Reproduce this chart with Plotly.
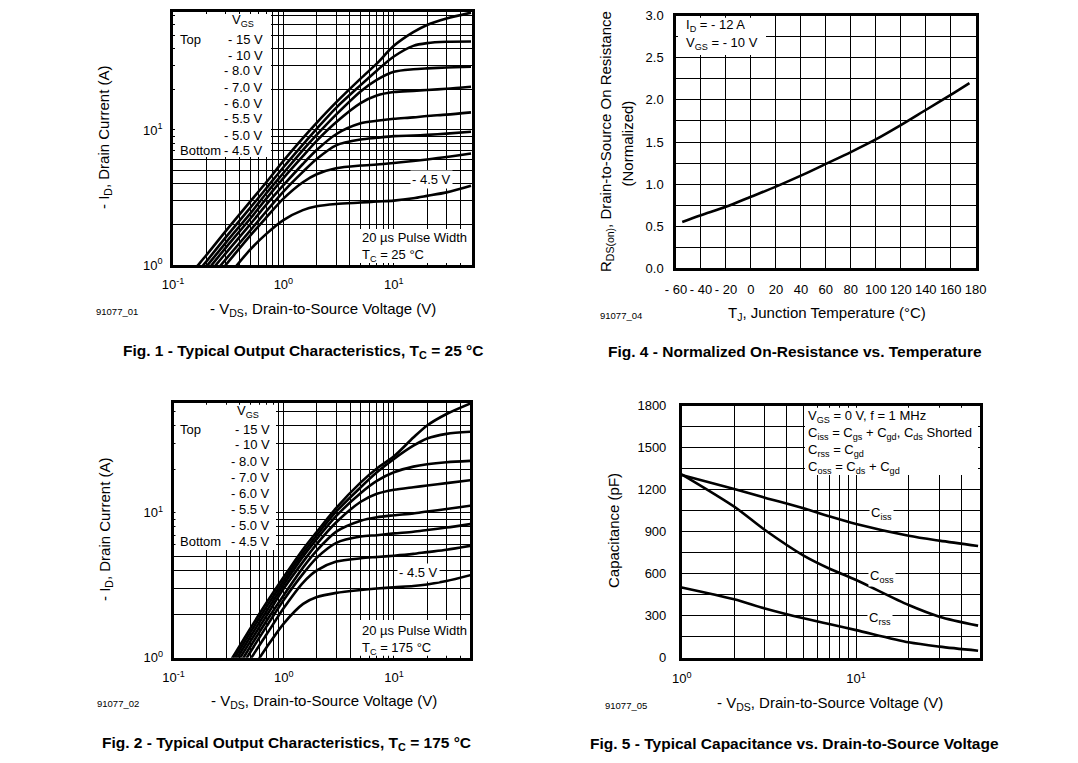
import plotly.graph_objects as go

# page body has an 8 px margin: the figure is drawn 8 px in from the window edge
OFF = 8
FW, FH = 1062, 747
FONT = "Liberation Sans, Arial, sans-serif"

# ---------------- data ----------------
vds_grid = [0.1, 0.15, 0.2, 0.3, 0.5, 0.7, 1, 1.5, 2, 3, 5, 7, 10, 15, 20, 30, 50]
vgs_labels = ["- 15 V", "- 10 V", "- 8.0 V", "- 7.0 V", "- 6.0 V", "- 5.5 V", "- 5.0 V", "- 4.5 V"]

# Fig. 1, TC = 25 C  (-ID in A for each VGS on vds_grid)
id25_15v = [0.59, 0.89, 1.18, 1.78, 2.95, 4.1, 5.9, 8.7, 11.3, 16, 24, 31, 42, 53, 60, 67, 74]
id25_10v = [0.53, 0.8, 1.06, 1.6, 2.65, 3.7, 5.3, 7.8, 10.2, 14.6, 21.5, 27.5, 35, 42, 44, 45, 45.2]
id25_8v = [0.49, 0.73, 0.97, 1.46, 2.4, 3.4, 4.8, 7.1, 9.2, 13, 19.3, 23.5, 27, 28.2, 28.6, 29, 29.4]
id25_7v = [0.45, 0.67, 0.89, 1.34, 2.2, 3.1, 4.4, 6.4, 8.3, 11.4, 15.8, 18, 19.1, 19.5, 19.8, 20.2, 20.9]
id25_6v = [0.41, 0.61, 0.82, 1.22, 2.0, 2.8, 3.9, 5.6, 7.1, 9.3, 11.2, 11.7, 12.1, 12.4, 12.7, 13.0, 13.5]
id25_55v = [0.37, 0.55, 0.74, 1.1, 1.8, 2.5, 3.5, 4.9, 6.1, 7.7, 8.5, 8.75, 9.0, 9.1, 9.2, 9.4, 9.7]
id25_5v = [0.34, 0.51, 0.68, 1.0, 1.65, 2.25, 3.1, 4.1, 4.7, 5.2, 5.45, 5.55, 5.7, 5.9, 6.05, 6.3, 6.7]
id25_45v = [0.26, 0.4, 0.53, 0.79, 1.3, 1.7, 2.15, 2.55, 2.72, 2.83, 2.9, 2.95, 3.0, 3.12, 3.25, 3.45, 3.87]

# Fig. 2, TC = 175 C
id175_15v = [0.24, 0.38, 0.53, 0.85, 1.6, 2.4, 3.6, 5.6, 7.4, 10.8, 16.2, 20.2, 24.5, 33, 40, 48, 57]
id175_10v = [0.22, 0.35, 0.49, 0.8, 1.5, 2.25, 3.4, 5.3, 7.0, 10.2, 15, 19, 23.5, 29, 32.5, 35, 36.2]
id175_8v = [0.21, 0.33, 0.46, 0.75, 1.4, 2.1, 3.2, 5.0, 6.6, 9.5, 13.7, 16.6, 19, 20.8, 21.6, 22.3, 22.8]
id175_7v = [0.2, 0.31, 0.43, 0.7, 1.3, 1.95, 3.0, 4.6, 6.1, 8.6, 11.9, 13.5, 14.4, 15.0, 15.4, 16.0, 16.8]
id175_6v = [0.18, 0.28, 0.4, 0.64, 1.2, 1.8, 2.7, 4.2, 5.5, 7.4, 8.8, 9.3, 9.6, 9.9, 10.2, 10.6, 11.2]
id175_55v = [0.16, 0.25, 0.36, 0.58, 1.1, 1.65, 2.5, 3.8, 4.9, 6.2, 6.85, 7.0, 7.2, 7.4, 7.6, 7.9, 8.36]
id175_5v = [0.14, 0.22, 0.32, 0.52, 0.98, 1.45, 2.2, 3.3, 4.0, 4.6, 4.85, 4.95, 5.05, 5.2, 5.35, 5.55, 5.92]
id175_45v = [0.12, 0.18, 0.26, 0.43, 0.8, 1.18, 1.72, 2.35, 2.62, 2.8, 2.93, 3.0, 3.06, 3.12, 3.2, 3.38, 3.72]

# Fig. 4, normalized RDS(on) vs TJ
tj = [-55, -40, -20, 0, 20, 40, 60, 80, 100, 120, 140, 160, 175]
rds_norm = [0.55, 0.63, 0.73, 0.85, 0.97, 1.1, 1.24, 1.38, 1.53, 1.70, 1.88, 2.06, 2.20]

# Fig. 5, capacitance vs VDS
vds_cap = [1, 2, 3, 5, 7, 10, 20, 30, 50]
ciss = [1305, 1205, 1143, 1067, 1010, 955, 871, 836, 798]
coss = [1310, 1079, 912, 729, 637, 555, 376, 293, 229]
crss = [502, 417, 352, 281, 240, 197, 110, 79, 50]

# tick labels
log_x_ticks = [0.1, 0.2, 0.3, 0.4, 0.5, 0.6, 0.7, 0.8, 0.9, 1, 2, 3, 4, 5, 6, 7, 8, 9, 10, 20, 30, 40]
log_y_ticks = [1, 2, 3, 4, 5, 6, 7, 8, 9, 10, 20, 30, 40, 50, 60, 70]
decade_text = {0.1: "10<sup>-1</sup>", 1: "10<sup>0</sup>", 10: "10<sup>1</sup>"}
temp_ticks = [-60, -40, -20, 0, 20, 40, 60, 80, 100, 120, 140, 160, 180]
temp_text = ["- 60", "- 40", "- 20", "0", "20", "40", "60", "80", "100", "120", "140", "160", "180"]
rds_ticks = [0, 0.25, 0.5, 0.75, 1.0, 1.25, 1.5, 1.75, 2.0, 2.25, 2.5, 2.75, 3.0]
cap_ticks = [0, 150, 300, 450, 600, 750, 900, 1050, 1200, 1350, 1500, 1650, 1800]
cap_x_ticks = [1, 2, 3, 4, 5, 6, 7, 8, 9, 10, 20, 30, 40]


def px(x):
    return (x - OFF) / FW


def py(y):
    return 1 - (y - OFF) / FH


fig = go.Figure()

LINE = dict(color="black", width=2.6, shape="spline", smoothing=0.8)

fig1_curves = [id25_15v, id25_10v, id25_8v, id25_7v, id25_6v, id25_55v, id25_5v, id25_45v]
fig2_curves = [id175_15v, id175_10v, id175_8v, id175_7v, id175_6v, id175_55v, id175_5v, id175_45v]
for lab, c in zip(vgs_labels, fig1_curves):
    fig.add_trace(go.Scatter(x=vds_grid, y=c, mode="lines", line=LINE, name=lab,
                             xaxis="x", yaxis="y", showlegend=False, hoverinfo="skip"))
for lab, c in zip(vgs_labels, fig2_curves):
    fig.add_trace(go.Scatter(x=vds_grid, y=c, mode="lines", line=LINE, name=lab,
                             xaxis="x2", yaxis="y2", showlegend=False, hoverinfo="skip"))
fig.add_trace(go.Scatter(x=tj, y=rds_norm, mode="lines", line=LINE, xaxis="x3", yaxis="y3",
                         showlegend=False, hoverinfo="skip"))
for c in (ciss, coss, crss):
    fig.add_trace(go.Scatter(x=vds_cap, y=c, mode="lines", line=LINE, xaxis="x4", yaxis="y4",
                             showlegend=False, hoverinfo="skip"))

base_axis = dict(showline=True, mirror=True, linecolor="black", linewidth=2.5,
                 showgrid=True, gridcolor="black", gridwidth=1, ticks="", zeroline=False,
                 tickfont=dict(size=13, color="black", family=FONT), tickmode="array",
                 fixedrange=True, automargin=False)


def log_text(vals):
    return [decade_text.get(v, "") for v in vals]


fig.update_layout(
    template="none",
    width=FW, height=FH, margin=dict(l=0, r=0, t=0, b=0, pad=0, autoexpand=False),
    paper_bgcolor="white", plot_bgcolor="white", showlegend=False,
    font=dict(family=FONT, color="black", size=13),
    xaxis=dict(base_axis, type="log", range=[-1, 1.708], domain=[px(173), px(472)],
               anchor="y", tickvals=log_x_ticks, ticktext=log_text(log_x_ticks), ticklabelstandoff=6),
    yaxis=dict(base_axis, type="log", range=[0, 1.874], domain=[py(265), py(12)],
               anchor="x", tickvals=log_y_ticks, ticktext=log_text(log_y_ticks), ticklabelstandoff=5),
    xaxis2=dict(base_axis, type="log", range=[-1, 1.69], domain=[px(173.5), px(470)],
                anchor="y2", tickvals=log_x_ticks, ticktext=log_text(log_x_ticks), ticklabelstandoff=6),
    yaxis2=dict(base_axis, type="log", range=[0, 1.759], domain=[py(657.7), py(402.7)],
                anchor="x2", tickvals=log_y_ticks, ticktext=log_text(log_y_ticks), ticklabelstandoff=5),
    xaxis3=dict(base_axis, type="linear", range=[-60, 180], domain=[px(676), px(975.7)],
                anchor="y3", tickvals=temp_ticks, ticktext=temp_text, ticklabelstandoff=7),
    yaxis3=dict(base_axis, type="linear", range=[0, 3.0], domain=[py(268.3), py(15.7)],
                anchor="x3", tickvals=rds_ticks,
                ticktext=[("%.1f" % v) if abs(v * 2 - round(v * 2)) < 1e-9 else "" for v in rds_ticks],
                ticklabelstandoff=7),
    xaxis4=dict(base_axis, type="log", range=[0, 1.71], domain=[px(681.7), px(980)],
                anchor="y4", tickvals=cap_x_ticks, ticktext=log_text(cap_x_ticks), ticklabelstandoff=7),
    yaxis4=dict(base_axis, type="linear", range=[0, 1800], domain=[py(657.7), py(405.7)],
                anchor="x4", tickvals=cap_ticks,
                ticktext=[str(v) if v % 300 == 0 else "" for v in cap_ticks], ticklabelstandoff=10),
)

# white boxes hiding grid lines behind text blocks
boxes = [
    (175, 14, 271, 157),      # fig1 legend
    (356, 229, 470, 263),     # fig1 pulse note
    (175.5, 404.7, 276, 550),  # fig2 legend
    (357, 620, 468, 655.7),   # fig2 pulse note
    (678, 17.7, 766, 55),     # fig4 note
    (805, 407.7, 978, 475),   # fig5 note
]
for x0, y0, x1, y1 in boxes:
    fig.add_shape(type="rect", xref="paper", yref="paper", x0=px(x0), x1=px(x1), y0=py(y1), y1=py(y0),
                  fillcolor="white", line=dict(width=0), layer="above")

ann = []


def text(x, y, s, size=13, xanchor="center", yanchor="middle", angle=0, bg=None, bold=False):
    if bold:
        s = "<b>" + s + "</b>"
    d = dict(x=px(x), y=py(y), xref="paper", yref="paper", text=s, showarrow=False,
             xanchor=xanchor, yanchor=yanchor, textangle=angle,
             font=dict(size=size, color="black", family=FONT))
    if bg:
        d["bgcolor"] = bg
        d["borderpad"] = 1
    ann.append(d)


# legends of fig 1 and fig 2
rows1 = [39.3, 55, 71, 87.3, 103.3, 119, 135, 151]
rows2 = [429.3, 445, 461, 477.3, 493.3, 509.3, 525.7, 541.7]
text(243, 21, "V<sub>GS</sub>")
text(248, 412, "V<sub>GS</sub>")
for lab, r1, r2 in zip(vgs_labels, rows1, rows2):
    text(265, r1, lab, xanchor="right")
    text(272, r2, lab, xanchor="right")
text(178, 39.3, "Top", xanchor="left")
text(178, 151, "Bottom", xanchor="left")
text(178, 429.3, "Top", xanchor="left")
text(178, 541.7, "Bottom", xanchor="left")

text(431.7, 180, "- 4.5 V", bg="white")
text(418, 572, "- 4.5 V", bg="white")

text(359.5, 237.5, "20 µs Pulse Width", xanchor="left")
text(359.5, 255, "T<sub>C</sub> = 25 °C", xanchor="left")
text(360, 630, "20 µs Pulse Width", xanchor="left")
text(360, 648, "T<sub>C</sub> = 175 °C", xanchor="left")

text(684, 25.5, "I<sub>D</sub> = - 12 A", xanchor="left")
text(684, 43.5, "V<sub>GS</sub> = - 10 V", xanchor="left")

text(806, 416.5, "V<sub>GS</sub> = 0 V, f = 1 MHz", xanchor="left")
text(806, 433.5, "C<sub>iss</sub> = C<sub>gs</sub> + C<sub>gd</sub>, C<sub>ds</sub> Shorted", xanchor="left")
text(806, 450.5, "C<sub>rss</sub> = C<sub>gd</sub>", xanchor="left")
text(806, 467.5, "C<sub>oss</sub> = C<sub>ds</sub> + C<sub>gd</sub>", xanchor="left")

text(881, 513, "C<sub>iss</sub>", bg="white")
text(882, 576, "C<sub>oss</sub>", bg="white")
text(880, 618, "C<sub>rss</sub>", bg="white")

# axis titles
vds_title = "- V<sub>DS</sub>, Drain-to-Source Voltage (V)"
text(323, 310, vds_title, size=15)
text(323.5, 701.5, vds_title, size=15)
text(830, 703, vds_title, size=15)
text(826.5, 313, "T<sub>J</sub>, Junction Temperature (°C)", size=15)
text(105, 138, "- I<sub>D</sub>, Drain Current (A)", size=15, angle=-90)
text(105, 530, "- I<sub>D</sub>, Drain Current (A)", size=15, angle=-90)
text(606.5, 141.5, "R<sub>DS(on)</sub>, Drain-to-Source On Resistance", size=15, angle=-90)
text(626.5, 144, "(Normalized)", size=15, angle=-90)
text(613, 531, "Capacitance (pF)", size=15, angle=-90)

# figure codes
text(117, 312, "91077_01", size=9.5)
text(118, 703, "91077_02", size=9.5)
text(621, 315, "91077_04", size=9.5)
text(626, 705, "91077_05", size=9.5)

# captions
text(303, 352, "Fig. 1 - Typical Output Characteristics, T<sub>C</sub> = 25 °C", size=15.5, bold=True)
text(795, 352, "Fig. 4 - Normalized On-Resistance vs. Temperature", size=15.5, bold=True)
text(286.5, 743, "Fig. 2 - Typical Output Characteristics, T<sub>C</sub> = 175 °C", size=15.5, bold=True)
text(794.5, 743, "Fig. 5 - Typical Capacitance vs. Drain-to-Source Voltage", size=15.5, bold=True)

fig.update_layout(annotations=ann)
fig.write_html("out.html")
